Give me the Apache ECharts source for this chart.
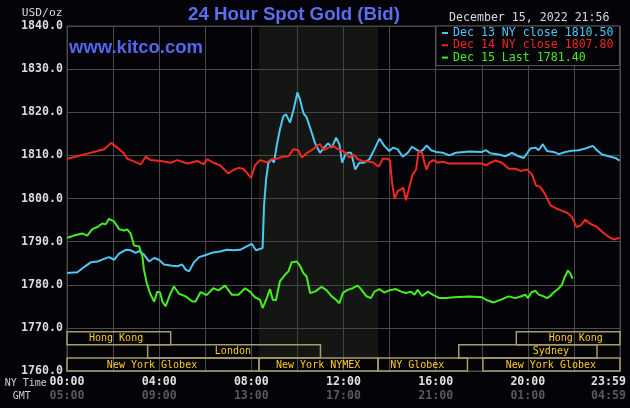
<!DOCTYPE html>
<html><head><meta charset="utf-8">
<script src="https://cdn.jsdelivr.net/npm/echarts@6/dist/echarts.min.js"></script>
<style>html,body{margin:0;padding:0;background:#040308;}#c{width:630px;height:408px;}</style>
</head><body><div id="c"></div>
<script>
// ---- texts ----
const titleText = '24 Hour Spot Gold (Bid)';
const siteText = 'www.kitco.com';
const dateText = 'December 15, 2022 21:56';
const unitText = 'USD/oz';
const seriesNames = ['Dec 13 NY close 1810.50', 'Dec 14 NY close 1807.80', 'Dec 15 Last 1781.40'];
const nyTimeLabels = ['00:00', '04:00', '08:00', '12:00', '16:00', '20:00', '23:59'];
const gmtLabels = ['05:00', '09:00', '13:00', '17:00', '21:00', '01:00', '04:59'];

// ---- series: [hour of NY day, price] ----
const dec13Close = [[0.01,1782.7],[0.45,1782.9],[0.74,1784.1],[1.03,1785.2],[1.32,1785.4],[1.61,1786.0],[1.82,1786.4],[2.04,1785.8],[2.26,1787.2],[2.55,1788.1],[2.76,1788.0],[2.98,1787.4],[3.13,1787.8],[3.34,1787.0],[3.56,1785.4],[3.78,1786.2],[3.99,1785.8],[4.21,1784.7],[4.57,1784.4],[4.79,1784.3],[5.00,1784.7],[5.15,1783.5],[5.30,1783.1],[5.51,1785.2],[5.73,1786.4],[6.02,1786.9],[6.35,1787.5],[6.64,1787.7],[6.93,1788.1],[7.22,1788.0],[7.51,1788.1],[7.80,1788.9],[8.02,1789.5],[8.20,1788.0],[8.49,1788.5],[8.55,1798.2],[8.64,1804.4],[8.74,1808.3],[8.88,1809.1],[8.98,1808.3],[9.10,1812.2],[9.24,1816.0],[9.39,1819.1],[9.51,1819.5],[9.68,1817.6],[9.82,1820.3],[10.00,1824.6],[10.11,1823.0],[10.26,1819.8],[10.40,1818.8],[10.62,1815.3],[10.76,1812.9],[10.98,1810.6],[11.15,1811.8],[11.34,1812.8],[11.49,1811.8],[11.68,1814.1],[11.82,1812.6],[11.94,1808.3],[12.08,1810.2],[12.18,1810.6],[12.33,1810.6],[12.51,1806.7],[12.69,1808.3],[12.90,1808.3],[13.12,1809.1],[13.34,1811.4],[13.56,1813.9],[13.77,1812.2],[13.99,1811.0],[14.16,1811.8],[14.35,1811.4],[14.57,1809.7],[14.79,1810.6],[14.97,1812.0],[15.15,1811.4],[15.32,1810.8],[15.47,1811.4],[15.61,1812.3],[15.80,1811.2],[16.02,1810.8],[16.31,1810.6],[16.59,1810.0],[16.88,1810.6],[17.46,1810.9],[18.01,1810.8],[18.19,1811.2],[18.37,1810.5],[18.74,1810.2],[19.02,1809.8],[19.31,1810.6],[19.60,1809.8],[19.82,1809.4],[19.97,1810.5],[20.11,1811.6],[20.33,1811.8],[20.47,1811.2],[20.65,1812.6],[20.83,1811.0],[21.12,1810.8],[21.34,1810.3],[21.63,1810.8],[21.92,1811.1],[22.21,1811.2],[22.50,1811.6],[22.82,1812.2],[23.00,1811.2],[23.22,1810.2],[23.51,1809.8],[23.80,1809.4],[23.98,1808.8]];

const dec14Close = [[0.01,1809.2],[0.45,1809.8],[0.88,1810.4],[1.32,1811.0],[1.61,1811.4],[1.92,1812.9],[2.18,1811.8],[2.47,1810.5],[2.62,1809.2],[2.91,1808.6],[3.20,1807.9],[3.41,1809.7],[3.63,1808.9],[4.07,1808.7],[4.50,1808.3],[4.79,1808.9],[5.22,1808.1],[5.66,1808.7],[5.92,1807.9],[6.09,1809.1],[6.35,1808.3],[6.64,1807.7],[7.00,1805.8],[7.22,1806.6],[7.44,1807.1],[7.65,1806.9],[7.80,1806.0],[7.99,1804.8],[8.16,1807.7],[8.38,1808.9],[8.67,1808.4],[8.88,1809.1],[9.10,1809.2],[9.39,1809.7],[9.61,1809.8],[9.82,1811.4],[10.04,1811.2],[10.19,1809.5],[10.40,1810.5],[10.62,1811.2],[10.84,1812.2],[10.98,1812.6],[11.15,1811.2],[11.34,1811.8],[11.56,1812.2],[11.70,1811.6],[11.89,1811.2],[12.11,1810.5],[12.25,1809.5],[12.43,1810.2],[12.62,1809.1],[12.83,1808.7],[13.05,1808.6],[13.27,1808.4],[13.53,1807.4],[13.70,1809.2],[13.92,1809.2],[14.02,1808.7],[14.11,1803.6],[14.22,1799.9],[14.35,1801.7],[14.50,1802.1],[14.60,1802.5],[14.71,1799.6],[14.83,1802.1],[15.00,1805.6],[15.15,1806.7],[15.26,1811.0],[15.41,1810.6],[15.51,1808.3],[15.61,1806.7],[15.72,1808.3],[15.90,1808.9],[16.09,1808.3],[16.31,1808.5],[16.59,1808.1],[16.88,1808.1],[17.58,1808.1],[18.01,1808.1],[18.19,1807.7],[18.37,1808.3],[18.59,1808.8],[18.88,1808.3],[19.17,1806.9],[19.46,1806.9],[19.68,1806.4],[19.97,1806.7],[20.18,1805.6],[20.36,1803.0],[20.54,1802.7],[20.76,1800.9],[20.98,1798.4],[21.19,1797.8],[21.41,1797.3],[21.70,1796.7],[21.92,1795.7],[22.11,1793.4],[22.28,1793.7],[22.50,1795.1],[22.69,1794.2],[23.00,1793.4],[23.29,1792.0],[23.51,1791.1],[23.73,1790.5],[23.98,1790.9]];

const dec15Last = [[0.01,1790.9],[0.30,1791.4],[0.66,1791.9],[0.88,1791.4],[1.10,1792.9],[1.32,1793.4],[1.53,1794.2],[1.68,1794.0],[1.82,1795.3],[2.04,1794.7],[2.26,1792.9],[2.47,1792.6],[2.62,1792.8],[2.76,1791.9],[2.91,1789.1],[3.13,1788.9],[3.27,1786.6],[3.34,1783.5],[3.46,1780.4],[3.60,1778.1],[3.78,1776.1],[3.92,1778.4],[4.04,1778.2],[4.14,1776.1],[4.28,1775.0],[4.47,1777.7],[4.64,1779.6],[4.86,1777.9],[5.15,1777.3],[5.44,1776.1],[5.58,1776.1],[5.80,1778.3],[6.06,1777.6],[6.35,1779.2],[6.57,1778.7],[6.86,1779.8],[7.15,1777.7],[7.44,1777.7],[7.73,1779.2],[7.94,1778.4],[8.16,1777.1],[8.38,1776.5],[8.49,1774.6],[8.67,1776.9],[8.81,1779.0],[8.93,1776.5],[9.07,1776.4],[9.24,1780.8],[9.46,1782.3],[9.61,1783.1],[9.75,1785.2],[9.97,1785.4],[10.11,1784.4],[10.26,1782.7],[10.40,1781.9],[10.55,1778.1],[10.76,1778.4],[11.05,1779.5],[11.27,1778.7],[11.49,1777.3],[11.70,1776.4],[11.82,1775.7],[11.97,1778.1],[12.18,1778.8],[12.40,1779.2],[12.62,1779.8],[12.76,1779.0],[12.98,1777.4],[13.19,1776.9],[13.34,1778.4],[13.56,1779.0],[13.77,1778.2],[13.99,1778.7],[14.28,1779.0],[14.50,1778.4],[14.71,1778.1],[14.93,1778.4],[15.08,1777.7],[15.22,1778.8],[15.41,1777.4],[15.66,1778.4],[15.87,1777.7],[16.16,1776.9],[16.45,1776.9],[16.81,1777.1],[17.46,1777.3],[18.01,1777.1],[18.23,1776.4],[18.52,1775.9],[18.81,1776.5],[19.17,1777.3],[19.46,1776.9],[19.75,1777.4],[19.89,1777.7],[20.01,1776.9],[20.15,1778.2],[20.33,1778.6],[20.47,1777.7],[20.69,1777.3],[20.83,1776.9],[20.98,1777.4],[21.12,1778.2],[21.31,1779.0],[21.48,1780.0],[21.60,1781.8],[21.74,1783.3],[21.85,1782.6],[21.94,1781.4]];

// ---- trading sessions (hours, row 0 = top) ----
const sessionNames   = ['Hong Kong', 'London', 'New York Globex', 'New York NYMEX', 'NY Globex', 'Sydney', 'Hong Kong', 'New York Globex'];
const sessionStart   = [0, 3.5, 0, 8.333, 13.5, 17.0, 19.5, 18.05];
const sessionEnd     = [4.5, 11.0, 8.333, 13.5, 17.38, 23.0, 24, 24];
const sessionRow     = [0, 1, 2, 2, 2, 1, 0, 2];
const sessionLabelAt = [2.13, 7.2, 3.69, 10.9, 15.2, 21.0, 22.08, 21.0];
const nymexShade = [8.333, 13.5];

// ---- styling ----
const BG = '#040308';
const GRIDC = '#4a4a4a';
const colors = ['#4cc8f4', '#f0281f', '#44ee22'];
const MONO = '"DejaVu Sans Mono", "Liberation Mono", monospace';
const ROW_TOP = 1769.1, ROW_H = 3.033;

const chart = echarts.init(document.getElementById('c'), null, {renderer: 'canvas'});

const sessionData = sessionStart.map((s, i) => [s, sessionEnd[i], sessionRow[i], sessionLabelAt[i]]);

const option = {
  backgroundColor: BG,
  animation: false,
  grid: {left: 67, top: 26, right: 10, bottom: 37, show: true, borderColor: GRIDC, borderWidth: 1, backgroundColor: 'transparent', containLabel: false},
  xAxis: {
    type: 'value', min: 0, max: 24, interval: 2,
    axisLine: {show: false}, axisTick: {show: false},
    splitLine: {show: true, lineStyle: {color: GRIDC, width: 1}},
    axisLabel: {
      margin: 4, showMinLabel: true, showMaxLabel: true, alignMaxLabel: 'right',
      formatter: function (v) {
        if (Math.round(v) % 4 !== 0) return '';
        const i = Math.round(v) / 4;
        if (i === 6) return '{c|' + nyTimeLabels[i] + '}\n{d|' + gmtLabels[i] + '}';
        return '{a|' + nyTimeLabels[i] + '}\n{b|' + gmtLabels[i] + '}';
      },
      rich: {
        a: {color: '#e0e0e0', fontFamily: MONO, fontSize: 11.6, fontWeight: 'bold', lineHeight: 13.7},
        b: {color: '#5a5a5a', fontFamily: MONO, fontSize: 11.6, fontWeight: 'bold', lineHeight: 13.7},
        c: {color: '#e0e0e0', fontFamily: MONO, fontSize: 11.6, fontWeight: 'bold', lineHeight: 13.7, width: 29, align: 'left'},
        d: {color: '#5a5a5a', fontFamily: MONO, fontSize: 11.6, fontWeight: 'bold', lineHeight: 13.7, width: 29, align: 'left'}
      }
    }
  },
  yAxis: {
    type: 'value', min: 1760, max: 1840, interval: 10,
    axisLine: {show: false}, axisTick: {show: false},
    splitLine: {show: true, lineStyle: {color: GRIDC, width: 1}},
    axisLabel: {margin: 4, color: '#dcdcdc', fontFamily: MONO, fontSize: 11.6, fontWeight: 'bold',
      formatter: v => v.toFixed(1)}
  },
  legend: {
    orient: 'vertical', left: 436, top: 26, padding: [1, 6, 2, 6],
    backgroundColor: BG, borderColor: '#5a5a5a', borderWidth: 1,
    itemWidth: 6, itemHeight: 2, itemGap: 0.3, icon: 'rect', selectedMode: false,
    textStyle: {fontFamily: MONO, fontSize: 11.6, lineHeight: 12},
    data: seriesNames.map((n, i) => ({name: n, itemStyle: {color: colors[i]}, textStyle: {color: colors[i]}}))
  },
  graphic: [
    {type: 'text', x: 294, y: 14.8, z: 10, style: {text: titleText, fill: '#5b6ef2', font: 'bold 18.7px "Liberation Sans", Arial, sans-serif', align: 'center', verticalAlign: 'middle'}},
    {type: 'text', x: 69, y: 48, z: 10, style: {text: siteText, fill: '#5566ee', font: 'bold 18.5px "Liberation Sans", Arial, sans-serif', align: 'left', verticalAlign: 'middle'}},
    {type: 'text', x: 449, y: 18.3, z: 10, style: {text: dateText, fill: '#d8d8d8', font: '11.6px ' + MONO, align: 'left', verticalAlign: 'middle'}},
    {type: 'text', x: 21.7, y: 12.7, z: 10, style: {text: unitText, fill: '#d8d8d8', font: '11.3px ' + MONO, align: 'left', verticalAlign: 'middle'}},
    {type: 'text', x: 4.7, y: 383.3, z: 10, style: {text: 'NY Time', fill: '#cfcfcf', font: '10px ' + MONO, align: 'left', verticalAlign: 'middle'}},
    {type: 'text', x: 12.7, y: 396, z: 10, style: {text: 'GMT', fill: '#cfcfcf', font: '10px ' + MONO, align: 'left', verticalAlign: 'middle'}}
  ],
  series: [
    {
      name: 'shade', type: 'line', data: [], z: 1, silent: true,
      markArea: {silent: true, itemStyle: {color: 'rgba(57,66,44,0.3)'},
        data: [[{xAxis: nymexShade[0], yAxis: ROW_TOP - 2 * ROW_H}, {xAxis: nymexShade[1], yAxis: 1840}]]}
    },
    {
      name: 'sessions', type: 'custom', z: 3, silent: true, clip: false,
      data: sessionData,
      renderItem: function (params, api) {
        const s = api.value(0), e = api.value(1), row = api.value(2), lab = api.value(3);
        const top = ROW_TOP - row * ROW_H;
        const p1 = api.coord([s, top]);
        const p2 = api.coord([e, top - ROW_H]);
        const pl = api.coord([lab, top - ROW_H / 2]);
        return {type: 'group', children: [
          {type: 'rect', shape: {x: p1[0], y: p1[1], width: p2[0] - p1[0], height: p2[1] - p1[1]},
            style: {fill: null, stroke: '#a59d6a', lineWidth: 1.5}},
          {type: 'text', x: pl[0], y: pl[1] + 0.5,
            style: {text: sessionNames[params.dataIndex], fill: '#ffcc22', font: '10px ' + MONO, align: 'center', verticalAlign: 'middle'}}
        ]};
      }
    },
    {name: seriesNames[0], type: 'line', data: dec13Close, showSymbol: false, z: 4, color: colors[0], lineStyle: {width: 2, color: colors[0]}},
    {name: seriesNames[1], type: 'line', data: dec14Close, showSymbol: false, z: 5, color: colors[1], lineStyle: {width: 2, color: colors[1]}},
    {name: seriesNames[2], type: 'line', data: dec15Last, showSymbol: false, z: 6, color: colors[2], lineStyle: {width: 2, color: colors[2]}}
  ]
};
chart.setOption(option);
</script>
</body></html>
